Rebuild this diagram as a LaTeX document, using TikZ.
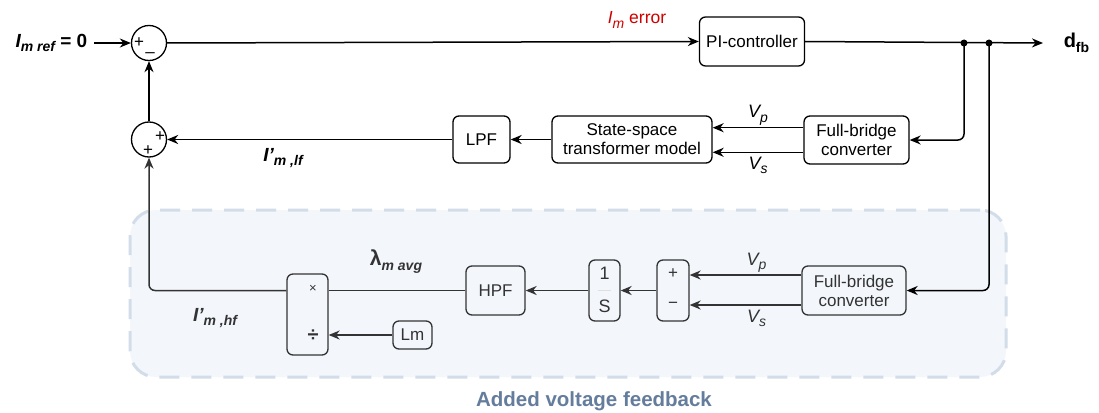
\documentclass[tikz,border=0pt]{standalone}
\usepackage{fontspec}
\setmainfont{Liberation Sans}
\usetikzlibrary{arrows.meta}
\definecolor{regfill}{HTML}{F3F7FC}
\definecolor{regline}{HTML}{D3DDEA}
\definecolor{titlec}{HTML}{647D9C}
\definecolor{errred}{HTML}{D00000}
\definecolor{lowc}{HTML}{333333}
\newcommand\subs[1]{\raisebox{-0.45ex}{\fontsize{14}{14}\selectfont #1}}
\begin{document}
\begin{tikzpicture}[x=1pt,y=-1pt,
  line width=1.5pt,
  arr/.style={-{Stealth[length=11pt,width=9pt,inset=3.5pt]}},
  blk/.style={draw, rounded corners=6pt, line width=1.3pt, align=center,
    font=\fontsize{17}{19}\selectfont, inner sep=0pt},
  sumc/.style={draw, circle, minimum size=35pt, inner sep=0pt, line width=1.3pt},
  sgn/.style={inner sep=0pt, font=\fontsize{17}{17}\selectfont},
  lbl/.style={inner sep=1pt, font=\fontsize{18}{19}\selectfont},
  blbl/.style={inner sep=1pt, font=\fontsize{19}{19}\selectfont\bfseries\itshape},
  dot/.style={circle, fill, inner sep=0pt, minimum size=7pt}]
\useasboundingbox (0,0) rectangle (1099,412);
\fill[white] (0,0) rectangle (1099,412);

% added feedback region
\node[draw=regline, fill=regfill, line width=3pt, dash pattern=on 20pt off 12pt,
  rounded corners=26pt, minimum width=876pt, minimum height=167pt, inner sep=0pt]
  (region) at (568,293.5) {};
\node[inner sep=0pt, text=titlec, font=\fontsize{20.5}{22}\selectfont\bfseries]
  (title) at (594,401) {Added voltage feedback};

% summing junctions
\node[sumc] (s1) at (149,43) {};
\node[sumc] (s2) at (149,139.5) {};
\node[sgn] (s1p) at (139,43) {+};
\node[sgn] (s1m) at (150,55) {–};
\node[sgn] (s2p1) at (160,137) {+};
\node[sgn] (s2p2) at (148,151) {+};

% upper blocks
\node[blk, minimum width=105pt, minimum height=49pt] (pi) at (752,41.5) {PI-controller};
\node[blk, minimum width=105pt, minimum height=48pt] (fb1) at (856.5,140) {Full-bridge\\converter};
\node[blk, minimum width=160pt, minimum height=47pt] (ss) at (632,139.5) {State-space\\transformer model};
\node[blk, minimum width=57pt, minimum height=47pt] (lpf) at (481.5,139.5) {LPF};

% lower blocks
\begin{scope}[lowc]
\node[blk, draw=lowc, text=lowc, minimum width=104pt, minimum height=49pt] (fb2) at (854,290.5) {Full-bridge\\converter};
\node[blk, draw=lowc, text=lowc, minimum width=32pt, minimum height=61pt] (pm) at (673,290.5) {};
\node[sgn, text=lowc] (pmp) at (673,274) {+};
\node[sgn, text=lowc] (pmm) at (673,305) {−};
\node[blk, draw=lowc, text=lowc, minimum width=31pt, minimum height=61pt] (integ) at (604.5,290.5) {};
\node[lbl, text=lowc] (one) at (604.5,273) {1};
\node[lbl, text=lowc] (ess) at (604.5,306) {S};
\draw[black!12, line width=0.8pt] (598,290.5) -- (611,290.5);
\node[blk, draw=lowc, text=lowc, minimum width=59pt, minimum height=49pt] (hpf) at (495.5,290.5) {HPF};
\node[blk, draw=lowc, text=lowc, minimum width=41pt, minimum height=81pt] (mult) at (307.5,314.5) {};
\node[inner sep=0pt, text=lowc, font=\fontsize{13}{13}\selectfont] (times) at (313,289) {×};
\node[inner sep=0pt, text=lowc, font=\fontsize{20}{20}\selectfont\bfseries] (divide) at (313,336) {÷};
\node[blk, draw=lowc, text=lowc, minimum width=39pt, minimum height=28pt] (lm) at (412.5,335) {Lm};
\end{scope}

% input and output labels
\node[inner sep=0pt, anchor=east, font=\fontsize{19}{19}\selectfont\bfseries] (iref) at (88,43)
  {\textit{I\subs{m ref}} = 0};
\node[inner sep=0pt, anchor=west, font=\fontsize{20}{20}\selectfont\bfseries] (dfb) at (1063,43)
  {d\subs{\bfseries fb}};
\coordinate (out) at (1043,43);
\coordinate (j1) at (964,43);
\coordinate (j2) at (989,43);

% upper connectors
\draw[arr] ([xshift=6pt]iref.east) -- (s1.west);
\draw[arr] (s1.east) -- (pi.west);
\draw[arr] (pi.east) -- (out);
\node[dot] (d1) at (j1) {};
\node[dot] (d2) at (j2) {};
\draw[arr, rounded corners=6pt] (j1) |- (fb1.east);
\draw[arr] ([yshift=12.3pt]fb1.west) -- ([yshift=12.3pt]fb1.west -| ss.east)
  node[lbl, midway, above=1pt] (vp1) {\textit{V\subs{p}}};
\draw[arr] ([yshift=-12.3pt]fb1.west) -- ([yshift=-12.3pt]fb1.west -| ss.east)
  node[lbl, midway, below=3pt] (vs1) {\textit{V\subs{s}}};
\draw[arr] (ss.west) -- (lpf.east);
\draw[arr] (lpf.west) -- (s2.east);
\draw[arr] (s2.north) -- (s1.south);

\node[blbl] (ilf) at (283,158) {I'\subs{m ,lf}};
\node[inner sep=0pt, text=errred, font=\fontsize{17.5}{19}\selectfont] (err) at (637,20)
  {\textit{I\subs{m}} error};

% lower connectors
\begin{scope}[lowc]
\draw[arr, black, rounded corners=6pt] (j2) |- (fb2.east);
\draw[arr] ([yshift=15.5pt]fb2.west) -- ([yshift=15.5pt]fb2.west -| pm.east)
  node[lbl, midway, above=1pt, xshift=11pt, text=lowc] (vp2) {\textit{V\subs{p}}};
\draw[arr] ([yshift=-14.5pt]fb2.west) -- ([yshift=-14.5pt]fb2.west -| pm.east)
  node[lbl, midway, below=3pt, xshift=11pt, text=lowc] (vs2) {\textit{V\subs{s}}};
\draw[arr] (pm.west) -- (integ.east);
\draw[arr] (integ.west) -- (hpf.east);
\draw (hpf.west) -- (hpf.west -| mult.east);
\draw[arr, rounded corners=6pt] (hpf.west -| mult.west) -| (s2.south);
\draw[arr] (lm.west) -- (lm.west -| mult.east);
\end{scope}

\node[blbl, font=\fontsize{21}{21}\selectfont\bfseries\itshape, text=lowc] (lam) at (396,262)
  {\textup{λ}\subs{m avg}};
\node[blbl, text=lowc] (ihf) at (215,318) {I'\subs{m ,hf}};
\end{tikzpicture}
\end{document}
